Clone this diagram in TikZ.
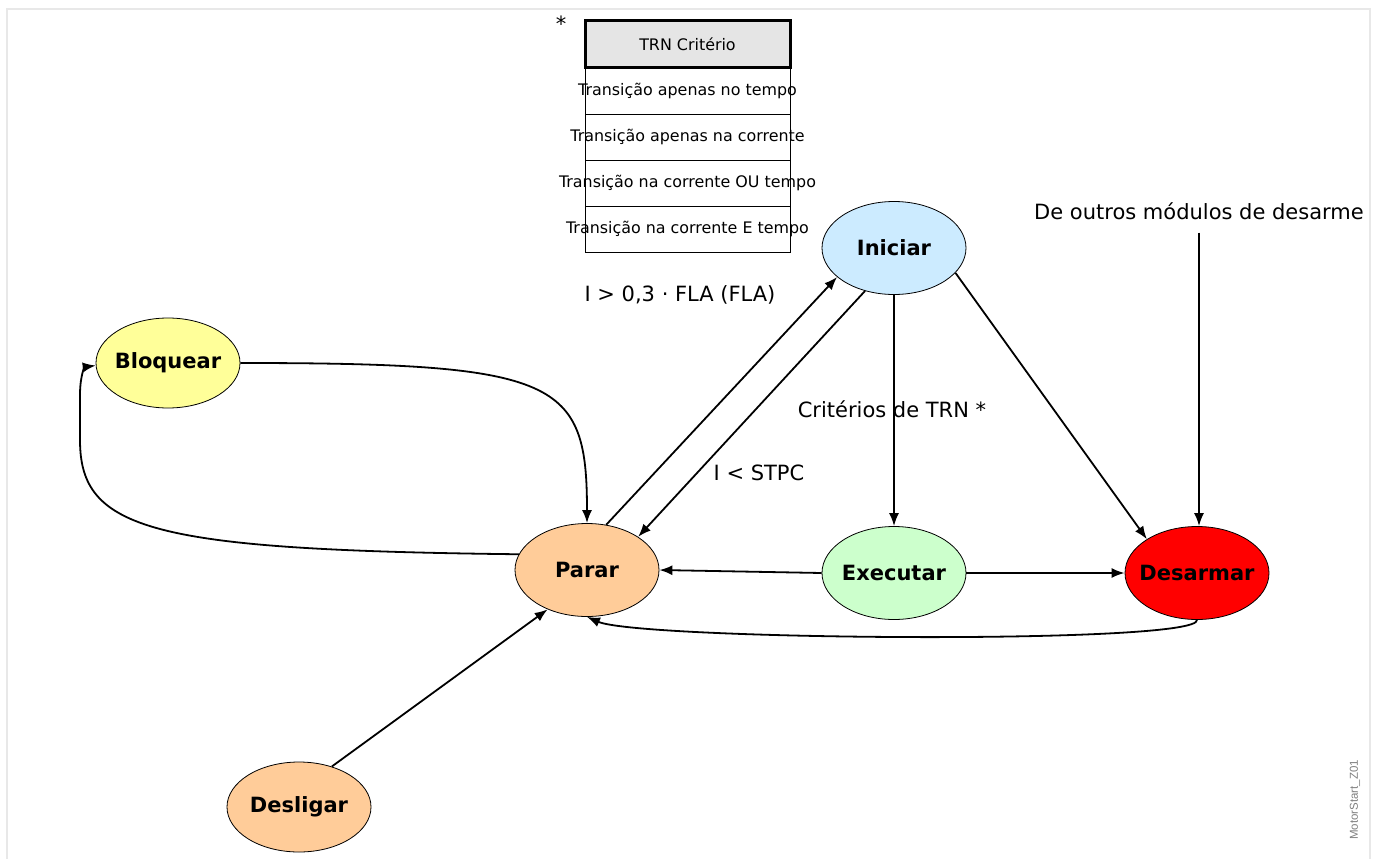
\documentclass[tikz,border=0pt]{standalone}
\usepackage{fontspec}
\setmainfont{DejaVu Sans}
\newfontfamily\smallsans{Liberation Sans}
\usetikzlibrary{shapes.geometric,arrows.meta}
\definecolor{cIni}{RGB}{204,235,255}
\definecolor{cBlo}{RGB}{255,255,153}
\definecolor{cPar}{RGB}{255,204,153}
\definecolor{cExe}{RGB}{204,255,204}
\definecolor{cDes}{RGB}{255,0,0}
\definecolor{cFrame}{RGB}{232,232,232}
\definecolor{cHead}{RGB}{229,229,229}
\newcommand{\zb}[1]{\makebox[0pt]{#1}}
\tikzset{
  state/.style={ellipse, draw=black, line width=0.8pt, minimum width=144pt, minimum height=93pt, inner sep=0pt,
    font=\fontsize{21}{25}\selectfont\bfseries},
  lbl/.style={font=\fontsize{21}{25}\selectfont, inner sep=2pt},
  trow/.style={rectangle, draw=black, line width=0.8pt, minimum width=205pt, minimum height=46pt, inner sep=0pt,
    font=\fontsize{15.9}{18}\selectfont},
  arr/.style={line width=1.8pt, -{Latex[length=13pt,width=10pt]}},
}
\begin{document}
\begin{tikzpicture}[x=1pt,y=-1pt]
\useasboundingbox (0,0) rectangle (1381,859);
\fill[white] (0,0) rectangle (1381,859);
\draw[cFrame, line width=2pt] (7,9) rectangle (1370,880);

% table
\node[trow] (r1) at (687.5,91) {\zb{Transição apenas no tempo}};
\node[trow] (r2) at (687.5,137) {\zb{Transição apenas na corrente}};
\node[trow] (r3) at (687.5,183) {\zb{Transição na corrente OU tempo}};
\node[trow] (r4) at (687.5,229) {\zb{Transição na corrente E tempo}};
\node[trow, fill=cHead, line width=3pt, minimum height=47pt] (hd) at (687.5,44.5) {\zb{TRN Critério}};
\node[lbl] (ast) at (561,24) {*};

% states
\node[state, fill=cIni] (ini) at (894,248) {\zb{Iniciar}};
\node[state, fill=cBlo, minimum height=90pt] (blo) at (168,363) {\zb{Bloquear}};
\node[state, fill=cPar] (par) at (587,570) {\zb{Parar}};
\node[state, fill=cExe] (exe) at (894,573) {\zb{Executar}};
\node[state, fill=cDes] (des) at (1197,573) {\zb{Desarmar}};
\node[state, fill=cPar, minimum height=90pt] (dsl) at (299,807) {\zb{Desligar}};

% labels
\node[lbl] (lfla) at (680,295) {I > 0,3 · FLA (FLA)};
\node[lbl] (ltrn) at (892,409) {Critérios de TRN *};
\node[lbl] (lstp) at (759,473) {I < STPC};
\node[lbl, text depth=0pt, inner sep=4pt] (lout) at (1199,211) {De outros módulos de desarme};
\node[font=\smallsans\fontsize{11.5}{13}\selectfont, text=black!50, rotate=90] (tag) at (1355,800) {MotorStart\_Z01};

% connectors
\draw[arr] (blo.east) .. controls (560,363) and (587,380) .. (par.north);
\draw[arr] (par.167) .. controls (150,550) and (80,530) .. (80,440) -- (80,395) .. controls (80,375) and (85,367) .. (blo.182);
\draw[arr] (par.67.7) -- (ini.207.8);
\draw[arr] (ini.236) -- (par.33.4);
\draw[arr] (ini.south) -- (exe.north);
\draw[arr] (ini.-22.8) -- (des.146.3);
\draw[arr, shorten <=9pt] (lout.south) -- (lout.south |- des.north);
\draw[arr] (exe.west) -- (par.east);
\draw[arr] (exe.east) -- (des.west);
\draw[arr] (des.south) .. controls (1200,645) and (640,640) .. (par.south);
\draw[arr] (dsl.51.5) -- (par.225);
\end{tikzpicture}
\end{document}
